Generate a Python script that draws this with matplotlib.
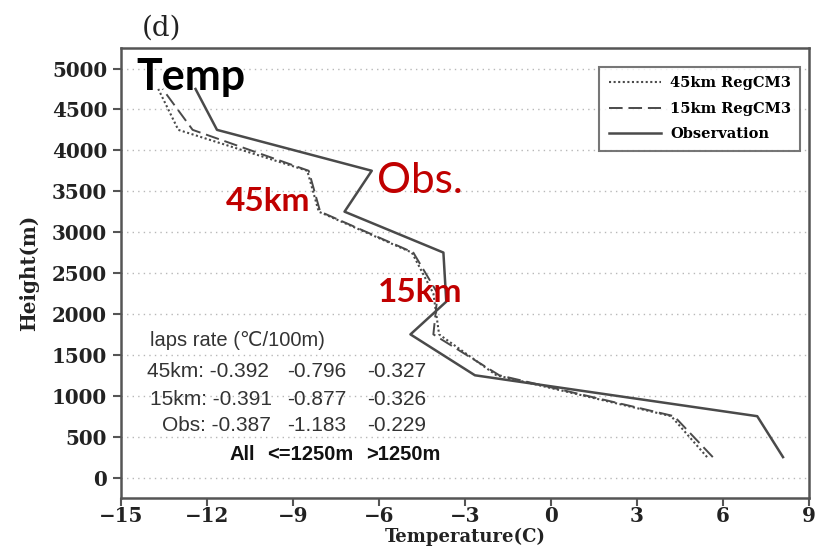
import matplotlib
matplotlib.use("Agg")
import matplotlib.pyplot as plt

# Sounding heights (m) and temperatures (C)
heights = [250, 750, 1250, 1750, 2250, 2750, 3250, 3750, 4250, 4750]
temp_45km = [5.45, 4.2, -1.9, -3.9, -4.1, -4.85, -8.1, -8.5, -13.0, -13.7]
temp_15km = [5.65, 4.3, -1.8, -4.1, -3.95, -4.8, -8.05, -8.45, -12.5, -13.55]

obs_heights = [250, 750, 1250, 1750, 2150, 2750, 3250, 3750, 4250, 4750]
temp_obs = [8.1, 7.2, -2.65, -4.9, -3.65, -3.75, -7.2, -6.25, -11.65, -12.4]

x_ticks = [-15, -12, -9, -6, -3, 0, 3, 6, 9]
y_ticks = [0, 500, 1000, 1500, 2000, 2500, 3000, 3500, 4000, 4500, 5000]

# Lapse-rate table (C/100m): all levels, <=1250m, >1250m
lapse_rows = ["45km:", "15km:", "Obs:"]
lapse_all = ["-0.392", "-0.391", "-0.387"]
lapse_low = ["-0.796", "-0.877", "-1.183"]
lapse_high = ["-0.327", "-0.326", "-0.229"]

serif = "DejaVu Serif"
sans = ["Liberation Sans", "DejaVu Sans"]
callout = ["Lato", "DejaVu Sans"]
line_col = "#4a4a4a"
red = "#c00000"

fig = plt.figure(figsize=(8.27, 5.46), dpi=100)
ax = fig.add_axes([0.1463, 0.0879, 0.8317, 0.8241])

ax.plot(temp_45km, heights, color=line_col, lw=1.5, ls=(0, (1, 1.2)), label="45km RegCM3")
ax.plot(temp_15km, heights, color=line_col, lw=1.4, ls=(0, (7, 3)), label="15km RegCM3")
ax.plot(temp_obs, obs_heights, color=line_col, lw=1.8, ls="-", label="Observation")

ax.set_xlim(-15, 9)
ax.set_ylim(-250, 5250)
ax.set_xticks(x_ticks)
ax.set_yticks(y_ticks)
ax.set_xticklabels([str(v).replace("-", "\u2212") for v in x_ticks])
ax.yaxis.grid(True, color="#b8b8b8", ls=(0, (1, 3)), lw=1.0)
ax.set_axisbelow(True)

for s in ["left", "bottom", "top", "right"]:
    ax.spines[s].set_color("#555555")
    ax.spines[s].set_linewidth(1.8)
ax.tick_params(axis="both", direction="out", length=6, width=1.5, color="#555555",
               labelsize=14.3, top=False, right=False)
ax.tick_params(axis="y", pad=4)
ax.tick_params(axis="x", pad=0)
for lbl in ax.get_xticklabels() + ax.get_yticklabels():
    lbl.set_fontfamily(serif)
    lbl.set_fontweight("bold")
    lbl.set_color("#222222")

ax.set_xlabel("Temperature(C)", fontfamily=serif, fontweight="bold", fontsize=13,
              color="#222222", labelpad=1)
ax.set_ylabel("Height(m)", fontfamily=serif, fontweight="bold", fontsize=14.3,
              color="#222222", labelpad=9)

leg = ax.legend(loc="upper right", bbox_to_anchor=(0.9985, 0.975), frameon=True,
                fancybox=False, edgecolor="#555555", handlelength=3.6,
                prop={"family": serif, "weight": "bold", "size": 10.5},
                labelspacing=0.8, borderpad=0.65, handletextpad=0.6)
leg.get_frame().set_linewidth(1.5)

fig.text(0.171, 0.948, "(d)", fontfamily=serif, fontsize=20, color="#222222",
         ha="left", va="center")

# Annotations
ax.text(-14.45, 4900, "Temp", fontfamily=callout, fontweight="bold",
        fontsize=31, color="black", ha="left", va="center")
ax.text(-6.05, 3630, "Obs.", fontfamily=callout, fontsize=30.5,
        color=red, ha="left", va="center")
ax.text(-11.35, 3370, "45km", fontfamily=callout, fontweight="bold",
        fontsize=24, color=red, ha="left", va="center")
ax.text(-6.05, 2260, "15km", fontfamily=callout, fontweight="bold",
        fontsize=24, color=red, ha="left", va="center")

txt_col = "#333333"
ax.text(-13.99, 1675, "laps rate (\u2103/100m)", fontfamily=sans, fontsize=14.5,
        color=txt_col, ha="left", va="center")
row_y = [1296, 951, 640]
row_x = [-14.09, -13.99, -13.57]
for name, a, lo, hi, y, x0 in zip(lapse_rows, lapse_all, lapse_low, lapse_high, row_y, row_x):
    ax.text(x0, y, f"{name} {a}", fontfamily=sans, fontsize=15, color=txt_col,
            ha="left", va="center")
    ax.text(-9.21, y, lo, fontfamily=sans, fontsize=15, color=txt_col,
            ha="left", va="center")
    ax.text(-6.42, y, hi, fontfamily=sans, fontsize=15, color=txt_col,
            ha="left", va="center")
ax.text(-11.2, 282, "All", fontfamily=sans, fontweight="bold", fontsize=14.5,
        color="#111111", ha="left", va="center")
ax.text(-9.91, 282, "<=1250m", fontfamily=sans, fontweight="bold", fontsize=14.5,
        color="#111111", ha="left", va="center")
ax.text(-6.45, 282, ">1250m", fontfamily=sans, fontweight="bold", fontsize=14.5,
        color="#111111", ha="left", va="center")

fig.savefig("out.png", dpi=100)
